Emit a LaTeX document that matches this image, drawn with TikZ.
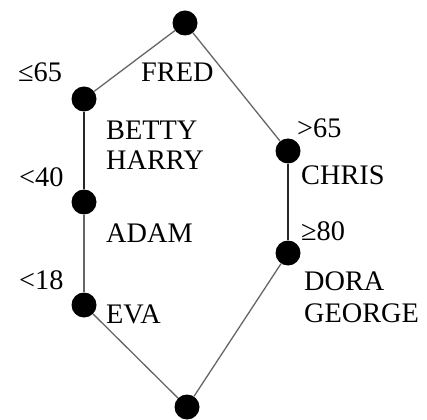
\documentclass[tikz,border=0pt]{standalone}
\usepackage{fontspec}
\setmainfont{Liberation Serif}
\begin{document}
\begin{tikzpicture}[x=1pt,y=-1pt,
  dot/.style={circle,fill=black,inner sep=0pt,minimum size=25pt},
  greyedge/.style={draw=black!60,line width=1.3pt},
  darkedge/.style={draw=black!85,line width=2pt},
  lbl/.style={anchor=base west,inner sep=0pt,font=\fontsize{28.3}{30}\selectfont}]
\useasboundingbox (0,0) rectangle (427,419);

% lattice points
\node[dot] (top) at (185,23) {};
\node[dot] (l1)  at (84,99) {};
\node[dot] (l2)  at (84,202) {};
\node[dot] (l3)  at (84,305) {};
\node[dot] (r1)  at (288,151) {};
\node[dot] (r2)  at (288,253) {};
\node[dot] (bot) at (187,407) {};

% connectors
\draw[greyedge] (top) -- (l1);
\draw[darkedge] (l1) -- (l2);
\draw[greyedge] (l2) -- (l3);
\draw[greyedge] (l3) -- (bot);
\draw[greyedge] (top) -- (r1);
\draw[darkedge] (r1) -- (r2);
\draw[greyedge] (r2) -- (bot);

% thresholds
\node[lbl] (t1) at (18,82)  {≤65};
\node[lbl] (t2) at (19,187) {<40};
\node[lbl] (t3) at (19,289) {<18};
\node[lbl] (t4) at (297,138) {>65};
\node[lbl] (t5) at (301,240) {≥80};

% names
\node[lbl] (fred)   at (141,82)  {FRED};
\node[lbl] (betty)  at (106,140) {BETTY};
\node[lbl] (harry)  at (106,170) {HARRY};
\node[lbl] (adam)   at (106,242) {ADAM};
\node[lbl] (eva)    at (106,323) {EVA};
\node[lbl] (chris)  at (301,185) {CHRIS};
\node[lbl] (dora)   at (304,290) {DORA};
\node[lbl] (george) at (304,322) {GEORGE};
\end{tikzpicture}
\end{document}
